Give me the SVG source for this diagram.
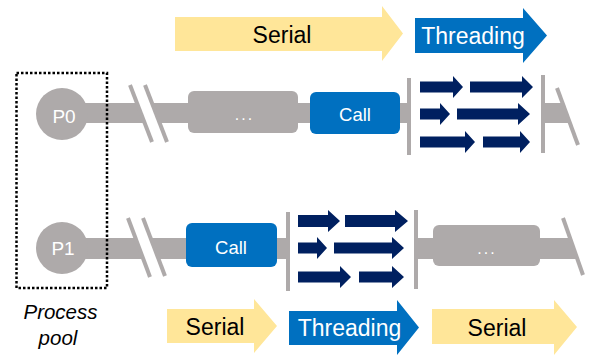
<svg xmlns="http://www.w3.org/2000/svg" width="593" height="361" viewBox="0 0 593 361">
<style>
.bar{fill:#AEAAAA}
.cut{stroke:#AEAAAA;stroke-width:4;fill:none}
.vline{stroke:#AEAAAA;stroke-width:4}
.gap{fill:#FFFFFF}
.thr{fill:#002060}
.ser{fill:#FFE699}
.blue{fill:#0070C0}
.t{font-family:"Liberation Sans",Arial,sans-serif;text-anchor:middle}
.big{font-size:23px}
.wt{fill:#FFFFFF}
.bk{fill:#000000}
.dots{font-size:16px;letter-spacing:2px}
</style>
<rect width="593" height="361" fill="#FFFFFF"/>
<g id="timelines">
  <rect class="bar" x="62" y="103" width="126" height="20"/>
  <polygon class="gap" points="130,85 145,85 167,142 152,142"/>
  <line class="cut" x1="130" y1="85" x2="152" y2="142"/>
  <line class="cut" x1="145" y1="85" x2="167" y2="142"/>
  <rect class="bar" x="296" y="103" width="16" height="20"/>
  <rect class="bar" x="398" y="103" width="11" height="20"/>
  <line class="vline" x1="409" y1="78" x2="409" y2="155"/>
  <line class="vline" x1="543" y1="75" x2="543" y2="153"/>
  <polygon class="bar" points="543,103 562.5,103 569.9,123 543,123"/>
  <line class="cut" x1="557" y1="88" x2="578" y2="145"/>
  <rect class="bar" x="62" y="238" width="126" height="21"/>
  <polygon class="gap" points="128,218 143,218 165,276 150,276"/>
  <line class="cut" x1="128" y1="218" x2="150" y2="277"/>
  <line class="cut" x1="143" y1="218" x2="165" y2="276"/>
  <rect class="bar" x="275" y="238" width="13" height="21"/>
  <line class="vline" x1="288" y1="212" x2="288" y2="291"/>
  <line class="vline" x1="416" y1="210" x2="416" y2="289"/>
  <rect class="bar" x="416" y="238" width="19" height="21"/>
  <polygon class="bar" points="538,238 570,238 577.4,259 538,259"/>
  <line class="cut" x1="563" y1="218" x2="583" y2="275"/>
</g>
<g id="pool">
  <rect x="16.5" y="73" width="90.5" height="215" fill="none" stroke="#000000" stroke-width="2.5" stroke-dasharray="2.5 2"/>
  <text class="t bk" x="60.5" y="319" font-size="20.5" font-style="italic">Process</text>
  <text class="t bk" x="58" y="345" font-size="20.5" font-style="italic">pool</text>
</g>
<g id="p0">
  <circle class="bar" cx="62" cy="114" r="26"/>
  <text class="t wt" x="64" y="122.7" font-size="19">P0</text>
</g>
<g id="p1">
  <circle class="bar" cx="62" cy="248" r="26"/>
  <text class="t wt" x="63" y="255" font-size="19">P1</text>
</g>
<g id="p0-serial-box">
  <rect class="bar" x="188" y="91" width="110" height="42" rx="6"/>
  <text class="t wt dots" x="244.5" y="119.5">...</text>
</g>
<g id="p0-call">
  <rect class="blue" x="310" y="92" width="90" height="42" rx="6"/>
  <text class="t wt" x="355" y="121" font-size="18.5">Call</text>
</g>
<g id="p0-threads">
  <polygon class="thr" points="420,81.5 453,81.5 453,76 463,87 453,98 453,92.5 420,92.5"/>
  <polygon class="thr" points="470,81.5 522,81.5 522,76 533,87 522,98 522,92.5 470,92.5"/>
  <polygon class="thr" points="420,108.5 440,108.5 440,103 450,114 440,125 440,119.5 420,119.5"/>
  <polygon class="thr" points="457,108.5 518,108.5 518,103 530,114 518,125 518,119.5 457,119.5"/>
  <polygon class="thr" points="420,136.5 465,136.5 465,131 475,142 465,153 465,147.5 420,147.5"/>
  <polygon class="thr" points="483,136.5 520,136.5 520,131 530,142 520,153 520,147.5 483,147.5"/>
</g>
<g id="p1-call">
  <rect class="blue" x="186" y="223" width="91" height="44" rx="6"/>
  <text class="t wt" x="231" y="253.5" font-size="18.5">Call</text>
</g>
<g id="p1-threads">
  <polygon class="thr" points="298,215 328,215 328,210 340,221 328,232 328,227 298,227"/>
  <polygon class="thr" points="345,215 395,215 395,210 408,221 395,232 395,227 345,227"/>
  <polygon class="thr" points="298,242.5 317,242.5 317,237 327,248 317,259 317,253.5 298,253.5"/>
  <polygon class="thr" points="334,242.5 392,242.5 392,237 404,248 392,259 392,253.5 334,253.5"/>
  <polygon class="thr" points="298,271.5 340,271.5 340,266 351,277 340,288 340,282.5 298,282.5"/>
  <polygon class="thr" points="359,271.5 392,271.5 392,266 404,277 392,288 392,282.5 359,282.5"/>
</g>
<g id="p1-serial-box">
  <rect class="bar" x="433" y="225" width="107" height="41" rx="6"/>
  <text class="t wt dots" x="487" y="253.5">...</text>
</g>
<g id="top-serial">
  <polygon class="ser" points="175,17 382,17 382,6 403,33.5 382,61 382,51 175,51"/>
  <text class="t big bk" x="282" y="43">Serial</text>
</g>
<g id="top-threading">
  <polygon class="blue" points="415,18 523,18 523,8 547,35.5 523,63 523,53 415,53"/>
  <text class="t big wt" x="473" y="43.5">Threading</text>
</g>
<g id="bottom-serial-1">
  <polygon class="ser" points="167,309 254,309 254,299 277,326 254,353 254,343 167,343"/>
  <text class="t big bk" x="215" y="335">Serial</text>
</g>
<g id="bottom-threading">
  <polygon class="blue" points="289,311 397,311 397,300 419,327.5 397,355 397,345 289,345"/>
  <text class="t big wt" x="349.5" y="335.5">Threading</text>
</g>
<g id="bottom-serial-2">
  <polygon class="ser" points="432,309 554,309 554,300 577,327 554,355 554,344 432,344"/>
  <text class="t big bk" x="497" y="336">Serial</text>
</g>
</svg>
